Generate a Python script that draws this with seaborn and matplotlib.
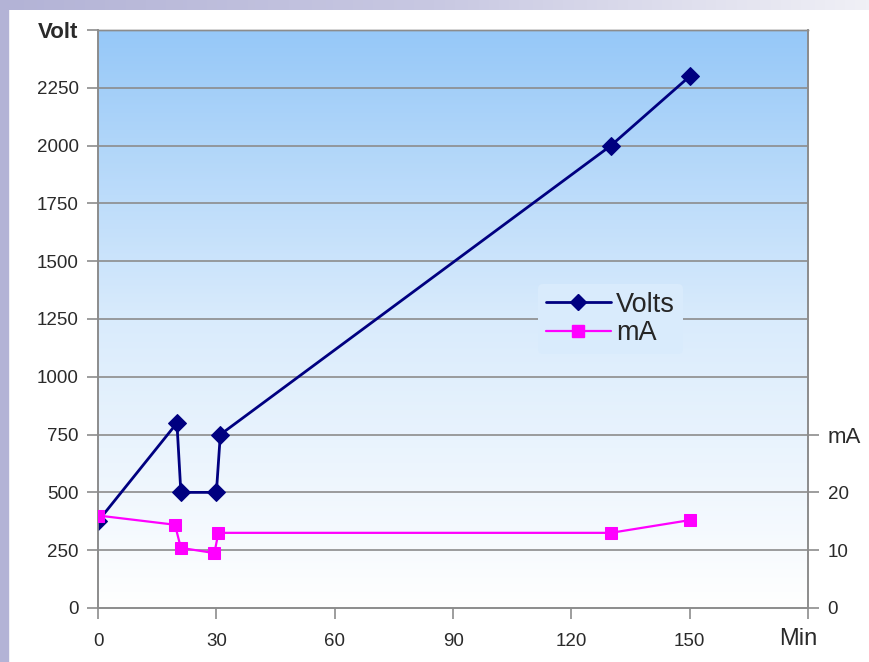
import matplotlib.pyplot as plt
import matplotlib.colors as mcolors
import matplotlib.transforms as mtransforms
from matplotlib.patches import Rectangle
from matplotlib.lines import Line2D
import seaborn as sns
import numpy as np
import pandas as pd

# data
minutes_v = [0, 20, 21, 30, 31, 130, 150]
volts = [375, 800, 500, 500, 750, 2000, 2300]
minutes_ma = [0, 19.5, 21, 29.5, 30.5, 130, 150]
milliamps = [16, 14.4, 10.4, 9.5, 13.0, 13.0, 15.2]

x_ticks = [0, 30, 60, 90, 120, 150, 180]
x_labels = ['0', '30', '60', '90', '120', '150', 'Min']
v_ticks = list(range(0, 2501, 250))
v_labels = [str(t) for t in v_ticks[:-1]] + ['Volt']
ma_ticks = [0, 10, 20, 30]
ma_labels = ['0', '10', '20', 'mA']

df_v = pd.DataFrame({'Min': minutes_v, 'Volts': volts})
df_ma = pd.DataFrame({'Min': minutes_ma, 'mA': milliamps})

sns.set_style('white')
plt.rcParams['font.family'] = ['Liberation Sans', 'DejaVu Sans']

fig = plt.figure(figsize=(8.69, 6.62), dpi=100)
# lavender frame: left strip and fading top strip
fig.patches.append(Rectangle((0, 0), 0.0095, 1, transform=fig.transFigure,
                             color='#b3b3d6', zorder=0))
strip = mcolors.LinearSegmentedColormap.from_list('strip', ['#b3b3d6', '#c8c8e2', '#f0f0f6'])
top_ax = fig.add_axes([0, 0.985, 1, 0.015])
top_ax.imshow(np.linspace(0, 1, 256).reshape(1, -1), cmap=strip, aspect='auto')
top_ax.axis('off')

ax = fig.add_axes([0.1128, 0.0816, 0.8172, 0.8731])
ax.set_facecolor('white')

# vertical gradient background
cmap = mcolors.LinearSegmentedColormap.from_list('bg', ['#ffffff', '#d9ebfc', '#96c8f8'])
grad = np.linspace(0, 1, 256).reshape(-1, 1)
ax.imshow(grad, cmap=cmap, origin='lower', aspect='auto',
          extent=[0, 180, 0, 2500], zorder=0)

for t in v_ticks[1:-1]:
    ax.axhline(t, color='#8c8c8c', lw=1.2, zorder=1)

sns.lineplot(data=df_v, x='Min', y='Volts', ax=ax, sort=False, color='#000080',
             marker='D', markersize=9, lw=2, markeredgecolor='#000080', zorder=4)

ax2 = ax.twinx()
sns.lineplot(data=df_ma, x='Min', y='mA', ax=ax2, sort=False, color='#ff00ff',
             marker='s', markersize=9, lw=1.6, markeredgecolor='#ff00ff', zorder=4)

ax.set_xlim(0, 180)
ax.set_ylim(0, 2500)
ax2.set_ylim(0, 100)
ax.set_xticks(x_ticks)
ax.set_xticklabels(x_labels)
ax.set_yticks(v_ticks)
ax.set_yticklabels(v_labels)
ax2.set_yticks(ma_ticks)
ax2.set_yticklabels(ma_labels)
ax.set_xlabel('')
ax.set_ylabel('')
ax2.set_ylabel('')

for a in (ax, ax2):
    for s in ('left', 'right', 'bottom', 'top'):
        a.spines[s].set_color('#8c8c8c')
        a.spines[s].set_linewidth(1.2)
    a.spines['top'].set_linewidth(1.0)
ax.tick_params(axis='both', length=8, width=1.2, color='#8c8c8c', labelsize=13.5,
               labelcolor='#2a2a2a', left=True, bottom=True)
ax.tick_params(axis='y', pad=6)
ax.tick_params(axis='x', pad=10)
ax2.tick_params(axis='y', length=8, width=1.2, color='#8c8c8c', labelsize=13.5,
                labelcolor='#2a2a2a', pad=6, right=True)

ax.get_yticklabels()[-1].set_fontsize(16)
ax.get_yticklabels()[-1].set_fontweight('bold')
ax2.get_yticklabels()[-1].set_fontsize(16)
min_lbl = ax.get_xticklabels()[-1]
min_lbl.set_fontsize(17)
min_lbl.set_transform(min_lbl.get_transform() +
                      mtransforms.ScaledTranslation(-0.1, 0.05, fig.dpi_scale_trans))

handles = [Line2D([], [], color='#000080', marker='D', markersize=8, lw=2),
           Line2D([], [], color='#ff00ff', marker='s', markersize=8, lw=1.6)]
leg = ax.legend(handles, ['Volts', 'mA'], loc='center left',
                bbox_to_anchor=(0.6, 0.5), frameon=True, fontsize=19.5,
                handlelength=2.4, handletextpad=0.2, labelspacing=0.1,
                borderpad=0.3)
leg.get_frame().set_facecolor(cmap(0.5))
leg.get_frame().set_edgecolor('none')
leg.get_frame().set_alpha(1)
leg.set_zorder(5)

fig.savefig('out.png', dpi=100)
